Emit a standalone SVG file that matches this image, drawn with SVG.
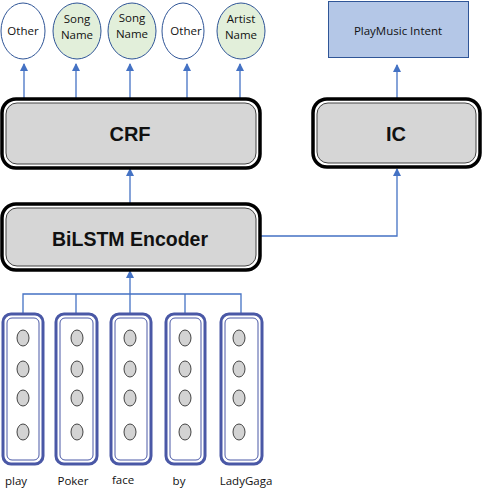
<svg xmlns="http://www.w3.org/2000/svg" width="482" height="490" viewBox="0 0 482 490">
<defs>
<marker id="ah" markerWidth="8" markerHeight="8" refX="7" refY="4" orient="auto" markerUnits="userSpaceOnUse">
<path d="M0,0 L8,4 L0,8 Z" fill="#4472c4"/>
</marker>
<style>
.conn{stroke:#4472c4;stroke-width:1.3;fill:none}
.outer{fill:none;stroke:#000;stroke-width:3.5}
.inner{fill:#d6d6d6;stroke:#444;stroke-width:1}
.big{font-family:"Liberation Sans",Arial,sans-serif;font-weight:bold;font-size:20px;fill:#111;text-anchor:middle}
.sm{font-family:"Open Sans","Liberation Sans",sans-serif;font-size:11.5px;fill:#111;text-anchor:middle}
.lab{font-family:"Open Sans","Liberation Sans",sans-serif;font-size:11.5px;fill:#111;text-anchor:middle}
.ovw{fill:#fff;stroke:#2f5597;stroke-width:1}
.ovg{fill:#e2efda;stroke:#2f5597;stroke-width:1}
.colo{fill:none;stroke:#4a58a6;stroke-width:3}
.coli{fill:#fff;stroke:#4a58a6;stroke-width:1}
.dot{fill:#d3d3d3;stroke:#444;stroke-width:1}
</style>
</defs>
<rect width="482" height="490" fill="#fff"/>

<g id="connectors">
<line class="conn" x1="24" y1="98" x2="24" y2="64" marker-end="url(#ah)"/>
<line class="conn" x1="76" y1="98" x2="76" y2="64" marker-end="url(#ah)"/>
<line class="conn" x1="130" y1="98" x2="130" y2="64" marker-end="url(#ah)"/>
<line class="conn" x1="187" y1="98" x2="187" y2="64" marker-end="url(#ah)"/>
<line class="conn" x1="240" y1="98" x2="240" y2="64" marker-end="url(#ah)"/>
<line class="conn" x1="397" y1="98" x2="397" y2="65" marker-end="url(#ah)"/>
<line class="conn" x1="130" y1="203" x2="130" y2="169" marker-end="url(#ah)"/>
<polyline class="conn" points="260,236 397,236 397,169" marker-end="url(#ah)"/>
<line class="conn" x1="130" y1="313" x2="130" y2="271" marker-end="url(#ah)"/>
<polyline class="conn" points="23,313 23,294 241,294 241,313"/>
<line class="conn" x1="76" y1="294" x2="76" y2="313"/>
<line class="conn" x1="185" y1="294" x2="185" y2="313"/>
</g>

<g id="tag-other-1"><ellipse class="ovw" cx="23" cy="31" rx="22" ry="28"/><text class="sm" x="23" y="35">Other</text></g>
<g id="tag-song-1"><ellipse class="ovg" cx="77" cy="31" rx="24" ry="28"/><text class="sm" x="77" y="23">Song</text><text class="sm" x="77" y="39">Name</text></g>
<g id="tag-song-2"><ellipse class="ovg" cx="132" cy="31" rx="24" ry="28"/><text class="sm" x="132" y="22">Song</text><text class="sm" x="132" y="38">Name</text></g>
<g id="tag-other-2"><ellipse class="ovw" cx="183" cy="31" rx="21" ry="28"/><text class="sm" x="186" y="35">Other</text></g>
<g id="tag-artist"><ellipse class="ovg" cx="241" cy="31" rx="24" ry="28"/><text class="sm" x="241" y="23">Artist</text><text class="sm" x="241" y="39">Name</text></g>

<g id="intent"><rect x="328.5" y="1.5" width="140" height="56" fill="#b4c7e7" stroke="#2f5597" stroke-width="1"/><text class="sm" x="398" y="35">PlayMusic Intent</text></g>

<g id="crf"><rect class="outer" x="2" y="99" width="258" height="69" rx="14"/><rect class="inner" x="6" y="103" width="250" height="61" rx="11"/><text class="big" x="130" y="141">CRF</text></g>
<g id="ic"><rect class="outer" x="313" y="99" width="167" height="68" rx="14"/><rect class="inner" x="317" y="103" width="159" height="60" rx="11"/><text class="big" x="396" y="141">IC</text></g>
<g id="bilstm"><rect class="outer" x="2" y="204" width="258" height="66" rx="14"/><rect class="inner" x="6" y="208" width="250" height="58" rx="11"/><text class="big" x="130" y="246" style="font-size:19.5px">BiLSTM Encoder</text></g>

<g id="emb-play"><rect class="colo" x="3" y="314" width="40" height="150" rx="8"/><rect class="coli" x="7" y="318" width="32" height="142" rx="5"/><ellipse class="dot" cx="23" cy="338" rx="6" ry="8"/><ellipse class="dot" cx="23" cy="369" rx="6" ry="8"/><ellipse class="dot" cx="23" cy="398" rx="6" ry="8"/><ellipse class="dot" cx="23" cy="432" rx="6" ry="8"/></g>
<g id="emb-poker"><rect class="colo" x="56" y="314" width="41" height="150" rx="8"/><rect class="coli" x="60" y="318" width="33" height="142" rx="5"/><ellipse class="dot" cx="77" cy="338" rx="6" ry="8"/><ellipse class="dot" cx="77" cy="369" rx="6" ry="8"/><ellipse class="dot" cx="77" cy="398" rx="6" ry="8"/><ellipse class="dot" cx="77" cy="432" rx="6" ry="8"/></g>
<g id="emb-face"><rect class="colo" x="111" y="314" width="40" height="150" rx="8"/><rect class="coli" x="115" y="318" width="32" height="142" rx="5"/><ellipse class="dot" cx="130" cy="338" rx="6" ry="8"/><ellipse class="dot" cx="130" cy="369" rx="6" ry="8"/><ellipse class="dot" cx="130" cy="398" rx="6" ry="8"/><ellipse class="dot" cx="130" cy="432" rx="6" ry="8"/></g>
<g id="emb-by"><rect class="colo" x="166" y="314" width="39" height="150" rx="8"/><rect class="coli" x="170" y="318" width="31" height="142" rx="5"/><ellipse class="dot" cx="185" cy="338" rx="6" ry="8"/><ellipse class="dot" cx="185" cy="369" rx="6" ry="8"/><ellipse class="dot" cx="185" cy="398" rx="6" ry="8"/><ellipse class="dot" cx="185" cy="432" rx="6" ry="8"/></g>
<g id="emb-ladygaga"><rect class="colo" x="221" y="314" width="41" height="150" rx="8"/><rect class="coli" x="225" y="318" width="33" height="142" rx="5"/><ellipse class="dot" cx="239" cy="338" rx="6" ry="8"/><ellipse class="dot" cx="239" cy="369" rx="6" ry="8"/><ellipse class="dot" cx="239" cy="398" rx="6" ry="8"/><ellipse class="dot" cx="239" cy="432" rx="6" ry="8"/></g>

<g id="words">
<text class="lab" x="16" y="485">play</text>
<text class="lab" x="73" y="485">Poker</text>
<text class="lab" x="123" y="484">face</text>
<text class="lab" x="179" y="485">by</text>
<text class="lab" x="246" y="485">LadyGaga</text>
</g>
</svg>
